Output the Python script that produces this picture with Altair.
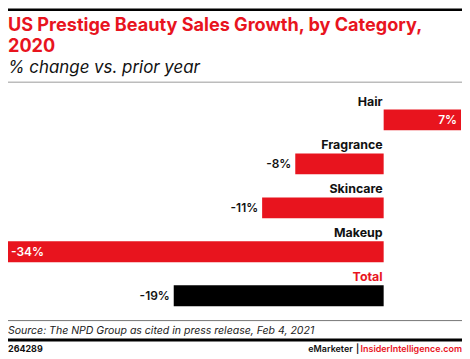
import altair as alt
import pandas as pd

categories = ["Hair", "Fragrance", "Skincare", "Makeup", "Total"]
values = [7, -8, -11, -34, -19]
value_labels = ["7%", "-8%", "-11%", "-34%", "-19%"]

title_lines = ["US Prestige Beauty Sales Growth, by Category,", "2020"]
subtitle = "% change vs. prior year"
source = "Source: The NPD Group as cited in press release, Feb 4, 2021"
chart_id = "264289"
brand_a = "eMarketer"
brand_sep = "|"
brand_b = "InsiderIntelligence.com"

RED = "#e8141e"
FONT = "Inter"
W, H = 457, 348

df = pd.DataFrame({"category": categories, "value": values, "label": value_labels})

xscale = alt.Scale(domain=[-34, 7], range=[0, 456], nice=False, zero=False)
yscale = alt.Scale(domain=categories, range=[101, 299], paddingInner=0.525, paddingOuter=0)

base = alt.Chart(df).encode(
    y=alt.Y("category:N", sort=categories, scale=yscale, axis=None)
)

bars = base.mark_bar().encode(
    x=alt.X("value:Q", scale=xscale, axis=None),
    x2=alt.X2("zero:Q"),
    color=alt.condition(alt.datum.category == "Total", alt.value("#000000"), alt.value(RED)),
).transform_calculate(zero="0")

cat_labels = base.mark_text(
    align="right", baseline="alphabetic", dy=-14.5, dx=-1, font=FONT, fontSize=12.5, fontWeight="bold"
).encode(
    x=alt.X("zero:Q", scale=xscale, axis=None),
    text="category:N",
    color=alt.condition(alt.datum.category == "Total", alt.value(RED), alt.value("#111111")),
).transform_calculate(zero="0")

val_right = base.mark_text(
    align="right", baseline="middle", dx=-4, font=FONT, fontSize=12, fontWeight=600
).encode(
    x=alt.X("value:Q", scale=xscale, axis=None),
    text="label:N",
    color=alt.condition(alt.datum.category == "Hair", alt.value("#ffffff"), alt.value("#111111")),
).transform_filter(alt.datum.category != "Makeup")

val_left = base.mark_text(
    align="left", baseline="middle", dx=3, font=FONT, fontSize=12, fontWeight=600, color="#ffffff"
).encode(
    x=alt.X("value:Q", scale=xscale, axis=None),
    text="label:N",
).transform_filter(alt.datum.category == "Makeup")


def txt(t, x, y, size, color="#111111", weight="normal", style="normal", align="left"):
    return alt.Chart(pd.DataFrame({"t": [t]})).mark_text(
        align=align, baseline="alphabetic", font=FONT, fontSize=size,
        fontWeight=weight, fontStyle=style, color=color
    ).encode(x=alt.value(x), y=alt.value(y), text="t:N")


def hrule(y, color, width):
    return alt.Chart(pd.DataFrame({"a": [0]})).mark_rule(color=color, strokeWidth=width).encode(
        x=alt.value(0), x2=alt.value(W), y=alt.value(y)
    )


layers = [
    hrule(0.5, "#000000", 2.5),
    txt(title_lines[0], 0, 21.5, 18.2, RED, "bold"),
    txt(title_lines[1], 0, 43, 18.2, RED, "bold"),
    txt(subtitle, 0, 64, 17, "#111111", "normal", "italic"),
    hrule(73.5, "#999999", 1),
    bars, cat_labels, val_right, val_left,
    hrule(313.5, "#777777", 1),
    txt(source, 0, 327, 10.6, "#222222", "normal", "italic"),
    hrule(333, "#000000", 3),
    txt(chart_id, 0, 345, 9, "#111111", "bold"),
    txt(brand_b, W, 345, 9, RED, 600, align="right"),
    txt(brand_sep, 352, 345, 9, "#111111", 600, align="center"),
    txt(brand_a, 347, 345, 9, "#111111", 600, align="right"),
]

chart = alt.layer(*layers).properties(
    width=W, height=H, padding=0, autosize=alt.AutoSizeParams(type="none")
).configure_view(strokeWidth=0)

chart.save("out.html", embed_options={"renderer": "svg", "actions": False})
